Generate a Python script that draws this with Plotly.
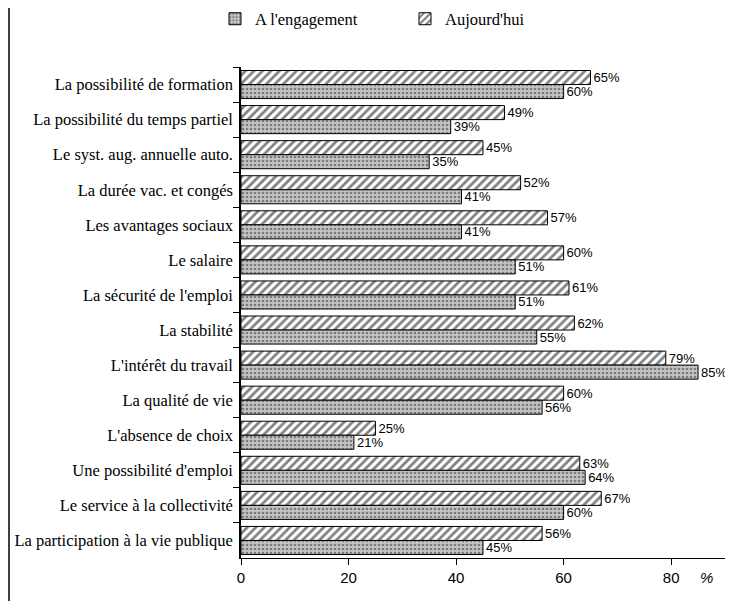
import plotly.graph_objects as go

categories = [
    "La possibilité de formation",
    "La possibilité du temps partiel",
    "Le syst. aug. annuelle auto.",
    "La durée vac. et congés",
    "Les avantages sociaux",
    "Le salaire",
    "La sécurité de l'emploi",
    "La stabilité",
    "L'intérêt du travail",
    "La qualité de vie",
    "L'absence de choix",
    "Une possibilité d'emploi",
    "Le service à la collectivité",
    "La participation à la vie publique",
]
aujourdhui = [65, 49, 45, 52, 57, 60, 61, 62, 79, 60, 25, 63, 67, 56]
engagement = [60, 39, 35, 41, 41, 51, 51, 55, 85, 56, 21, 64, 60, 45]
x_ticks = [0, 20, 40, 60, 80]

SERIF = "Liberation Serif, Times New Roman, serif"
SANS = "Liberation Sans, Arial, sans-serif"

# page has an 8px body margin: size the figure so the page fits the window
OFF = 8
W, H = 733 - OFF, 609 - 2 * OFF
ML, MR = 241 - OFF, 0
MT = 67 - OFF
MB = H - (558 - OFF)
PW = W - ML - MR
PH = H - MT - MB

fig = go.Figure()
fig.add_trace(go.Bar(
    name="Aujourd'hui", y=categories, x=aujourdhui, orientation="h",
    marker=dict(color="white", line=dict(color="black", width=1),
                pattern=dict(shape="/", fgcolor="black", bgcolor="white",
                             size=6, solidity=0.45)),
    text=[f"{v}%" for v in aujourdhui], textposition="outside",
    textfont=dict(family=SANS, size=13, color="black"),
    cliponaxis=False, constraintext="none", legendrank=2,
))
fig.add_trace(go.Bar(
    name="A l'engagement", y=categories, x=engagement, orientation="h",
    marker=dict(color="#c4c4c4", line=dict(color="black", width=1),
                pattern=dict(shape=".", fgcolor="#303030", bgcolor="#c4c4c4",
                             size=4, solidity=0.35)),
    text=[f"{v}%" for v in engagement], textposition="outside",
    textfont=dict(family=SANS, size=13, color="black"),
    cliponaxis=False, constraintext="none", legendrank=1,
))

fig.update_layout(
    width=W, height=H,
    margin=dict(l=ML, r=MR, t=MT, b=MB, autoexpand=False),
    paper_bgcolor="white", plot_bgcolor="white",
    barmode="group", bargap=0.2, bargroupgap=0,
    font=dict(family=SERIF, size=15, color="black"),
    showlegend=True,
    legend=dict(orientation="h", x=(215 - OFF - ML) / PW, xanchor="left",
                y=(PH - (19 - OFF - MT)) / PH, yanchor="middle",
                font=dict(family=SERIF, size=16.5), entrywidth=145,
                entrywidthmode="pixels", bgcolor="rgba(0,0,0,0)"),
    xaxis=dict(range=[0, 91.5], tickvals=x_ticks, ticktext=[str(v) for v in x_ticks],
               showgrid=False, zeroline=False, showline=True, linecolor="black",
               linewidth=1, ticks="outside", ticklen=6, tickcolor="black",
               tickfont=dict(family=SANS, size=15)),
    yaxis=dict(categoryorder="array", categoryarray=categories, autorange="reversed",
               showgrid=False, zeroline=False, showline=True, linecolor="black",
               linewidth=1.5, ticks="outside", ticklen=6, tickcolor="black",
               tickson="boundaries", ticklabelstandoff=3,
               tickfont=dict(family=SERIF, size=16.5)),
)

fig.add_annotation(x=86.5, xref="x", y=0, yref="paper", yanchor="top", yshift=-9,
                   text="<i>%</i>", showarrow=False,
                   font=dict(family=SANS, size=15, color="black"))

fig.add_shape(type="line", xref="paper", yref="paper",
              x0=(1 - ML) / PW, x1=(1 - ML) / PW,
              y0=(PH + MT) / PH, y1=-MB / PH,
              line=dict(color="black", width=1.5))

fig.write_html("out.html")
